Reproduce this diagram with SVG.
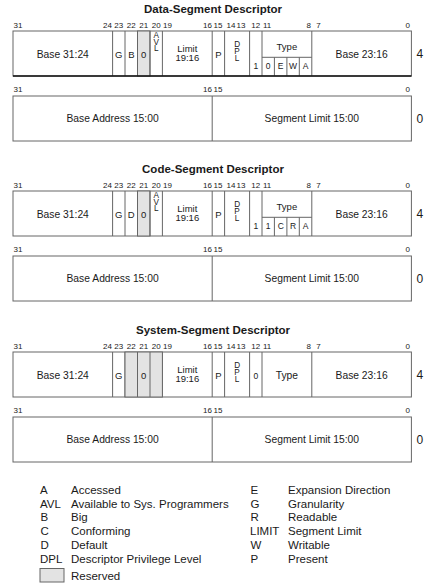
<svg xmlns="http://www.w3.org/2000/svg" width="440" height="588" viewBox="0 0 440 588">
<style>
text{font-family:"Liberation Sans",Arial,sans-serif;fill:#1a1a1a}
.t{font-size:11.5px;font-weight:bold;text-anchor:middle}
.b{font-size:8px}
.m{text-anchor:middle}
.e{text-anchor:end}
.f10{font-size:10.3px}
.f9{font-size:9.5px}
.f8{font-size:8.5px}
.v{font-size:8.2px;text-anchor:middle}
.n{font-size:12px}
.lg{font-size:11.5px}
.box{fill:#fff;stroke:#666;stroke-width:1}
.ln{stroke:#666;stroke-width:1;fill:none}
.sh{fill:#e3e3e3;stroke:#666;stroke-width:1}
</style>
<defs>
<g id="bits1">
<text class="b" x="13.5" y="28">31</text>
<text class="b e" x="112" y="28">24</text>
<text class="b m" x="118.8" y="28">23</text>
<text class="b m" x="131.3" y="28">22</text>
<text class="b m" x="143.7" y="28">21</text>
<text class="b m" x="156.2" y="28">20</text>
<text class="b" x="163" y="28">19</text>
<text class="b e" x="212" y="28">16</text>
<text class="b" x="213.5" y="28">15</text>
<text class="b m" x="230.9" y="28">14</text>
<text class="b m" x="241" y="28">13</text>
<text class="b m" x="255.8" y="28">12</text>
<text class="b" x="263" y="28">11</text>
<text class="b e" x="311" y="28">8</text>
<text class="b m" x="318.4" y="28">7</text>
<text class="b e" x="410" y="28">0</text>
</g>
<g id="low">
<text class="b" x="13.5" y="92">31</text>
<text class="b e" x="212" y="92">16</text>
<text class="b" x="213.5" y="92">15</text>
<text class="b e" x="410" y="92">0</text>
<rect class="box" x="13" y="96" width="398.4" height="45"/>
<line class="ln" x1="212.2" y1="96" x2="212.2" y2="141"/>
<text class="f10 m" x="112.6" y="122">Base Address 15:00</text>
<text class="f10 m" x="311.8" y="122">Segment Limit 15:00</text>
<text class="n" x="416.5" y="122.5">0</text>
</g>
<g id="common">
<rect class="box" x="13" y="31" width="398.4" height="45"/>
<text class="f10 m" x="62.8" y="57.5">Base 31:24</text>
<line class="ln" x1="112.6" y1="31" x2="112.6" y2="76"/>
<text class="f9 m" x="118.8" y="57.5">G</text>
<line class="ln" x1="125" y1="31" x2="125" y2="76"/>
<line class="ln" x1="162.4" y1="31" x2="162.4" y2="76"/>
<text class="f9 m" x="187.3" y="52">Limit</text>
<text class="f9 m" x="187.3" y="60.5">19:16</text>
<line class="ln" x1="212.2" y1="31" x2="212.2" y2="76"/>
<text class="f9 m" x="218.4" y="57.5">P</text>
<line class="ln" x1="224.6" y1="31" x2="224.6" y2="76"/>
<text class="v" x="237.1" y="47">D</text>
<text class="v" x="237.1" y="53.5">P</text>
<text class="v" x="237.1" y="60.5">L</text>
<line class="ln" x1="249.6" y1="31" x2="249.6" y2="76"/>
<line class="ln" x1="262" y1="31" x2="262" y2="76"/>
<line class="ln" x1="311.8" y1="31" x2="311.8" y2="76"/>
<text class="f10 m" x="361.6" y="57.5">Base 23:16</text>
<text class="n" x="416.5" y="58.3">4</text>
</g>
<g id="typesplit">
<line class="ln" x1="262" y1="57.3" x2="311.8" y2="57.3"/>
<line class="ln" x1="274.4" y1="57.3" x2="274.4" y2="76"/>
<line class="ln" x1="286.9" y1="57.3" x2="286.9" y2="76"/>
<line class="ln" x1="299.3" y1="57.3" x2="299.3" y2="76"/>
<text class="f9 m" x="286.9" y="50">Type</text>
<text class="f8 m" x="255.8" y="68.5">1</text>
<rect class="sh" x="137.5" y="31" width="12.45" height="45"/>
<text class="f9 m" x="143.7" y="57.5">0</text>
<line class="ln" x1="150" y1="31" x2="150" y2="76"/>
<text class="v" x="156.2" y="38.3">A</text>
<text class="v" x="156.2" y="44.8">V</text>
<text class="v" x="156.2" y="51.3">L</text>
</g>
</defs>

<g id="data-segment">
<text class="t" x="213" y="13">Data-Segment Descriptor</text>
<use href="#bits1"/>
<use href="#common"/>
<use href="#typesplit"/>
<text class="f9 m" x="131.3" y="57.5">B</text>
<text class="f8 m" x="268.2" y="68.5">0</text>
<text class="f8 m" x="280.7" y="68.5">E</text>
<text class="f8 m" x="293.1" y="68.5">W</text>
<text class="f8 m" x="305.6" y="68.5">A</text>
<line x1="13" y1="76" x2="411.4" y2="76" stroke="#111" stroke-width="1.5"/>
<use href="#low"/>
</g>

<g id="code-segment" transform="translate(0,160)">
<text class="t" x="213" y="13">Code-Segment Descriptor</text>
<use href="#bits1"/>
<use href="#common"/>
<use href="#typesplit"/>
<text class="f9 m" x="131.3" y="57.5">D</text>
<text class="f8 m" x="268.2" y="68.5">1</text>
<text class="f8 m" x="280.7" y="68.5">C</text>
<text class="f8 m" x="293.1" y="68.5">R</text>
<text class="f8 m" x="305.6" y="68.5">A</text>
<use href="#low"/>
</g>

<g id="system-segment" transform="translate(0,321)">
<text class="t" x="213" y="13">System-Segment Descriptor</text>
<use href="#bits1"/>
<use href="#common"/>
<rect class="sh" x="125" y="31" width="37.4" height="45"/>
<line class="ln" x1="137.5" y1="31" x2="137.5" y2="76"/>
<line class="ln" x1="150" y1="31" x2="150" y2="76"/>
<text class="f9 m" x="143.7" y="57.5">0</text>
<text class="f8 m" x="255.8" y="57.5">0</text>
<text class="f10 m" x="286.9" y="57.5">Type</text>
<use href="#low"/>
</g>

<g id="legend">
<text class="lg" x="40" y="494">A</text><text class="lg" x="71" y="494">Accessed</text>
<text class="lg" x="40" y="507.7">AVL</text><text class="lg" x="71" y="507.7">Available to Sys. Programmers</text>
<text class="lg" x="40.5" y="521.4">B</text><text class="lg" x="71" y="521.4">Big</text>
<text class="lg" x="40.5" y="535.1">C</text><text class="lg" x="71" y="535.1">Conforming</text>
<text class="lg" x="40.5" y="548.8">D</text><text class="lg" x="71" y="548.8">Default</text>
<text class="lg" x="40" y="562.5">DPL</text><text class="lg" x="71" y="562.5">Descriptor Privilege Level</text>
<text class="lg" x="250.5" y="494">E</text><text class="lg" x="288" y="494">Expansion Direction</text>
<text class="lg" x="250.5" y="507.7">G</text><text class="lg" x="288" y="507.7">Granularity</text>
<text class="lg" x="250.5" y="521.4">R</text><text class="lg" x="288" y="521.4">Readable</text>
<text class="lg" x="250" y="535.1">LIMIT</text><text class="lg" x="288" y="535.1">Segment Limit</text>
<text class="lg" x="250.5" y="548.8">W</text><text class="lg" x="288" y="548.8">Writable</text>
<text class="lg" x="250.5" y="562.5">P</text><text class="lg" x="288" y="562.5">Present</text>
<rect class="sh" x="40" y="568.5" width="24" height="13.5"/>
<text class="lg" x="71" y="579.5">Reserved</text>
</g>
</svg>
